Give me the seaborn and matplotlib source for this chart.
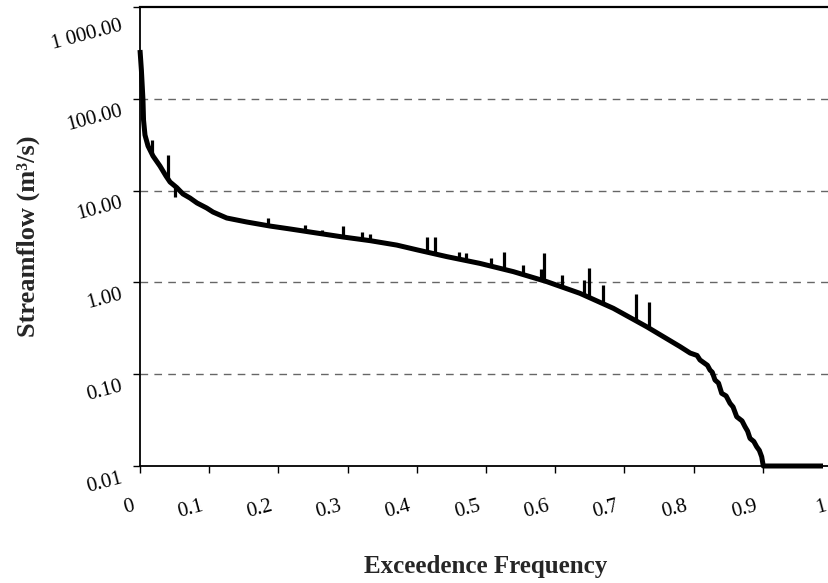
import numpy as np
import pandas as pd
import seaborn as sns
import matplotlib
matplotlib.use("Agg")
import matplotlib.pyplot as plt
from matplotlib.transforms import ScaledTranslation

# Flow duration curve: exceedence frequency vs. daily streamflow (m3/s)
exceedance = [0.0, 0.002, 0.0033, 0.0043, 0.0051, 0.0072, 0.0116, 0.0188, 0.0289,
              0.0376, 0.0434, 0.053, 0.0621, 0.0723, 0.0824, 0.0964, 0.1055, 0.1253,
              0.1542, 0.1879, 0.2168, 0.2553, 0.2938, 0.3324, 0.371, 0.4017, 0.4432,
              0.4913, 0.5395, 0.5877, 0.6358, 0.684, 0.7322, 0.7803, 0.795, 0.805,
              0.8092, 0.82, 0.8237, 0.827, 0.8309, 0.836, 0.8406, 0.847, 0.8526,
              0.857, 0.8623, 0.870, 0.8743, 0.878, 0.8815, 0.887, 0.8912, 0.895,
              0.8984, 0.9007, 0.987]
streamflow = [340, 206, 134.5, 97, 58.8, 40.3, 30.6, 23.8, 18.5,
              14.4, 12.4, 10.8, 9.19, 8.30, 7.33, 6.46, 5.84, 5.03,
              4.55, 4.11, 3.82, 3.45, 3.12, 2.85, 2.55, 2.25, 1.91,
              1.61, 1.31, 1.02, 0.760, 0.522, 0.329, 0.200, 0.170, 0.160,
              0.143, 0.125, 0.111, 0.105, 0.0865, 0.080, 0.0619, 0.058, 0.0482,
              0.044, 0.0344, 0.031, 0.0268, 0.024, 0.0200, 0.0185, 0.0162, 0.0148,
              0.0126, 0.0100, 0.0100]

# Isolated excursions away from the smooth curve
spike_x = [0.0169, 0.0409, 0.0506, 0.1854, 0.2384, 0.2626, 0.2938, 0.3204, 0.3324,
           0.371, 0.4143, 0.4263, 0.4614, 0.4711, 0.5072, 0.5264, 0.5539, 0.579,
           0.5842, 0.6094, 0.6416, 0.6488, 0.6695, 0.7168, 0.736]
spike_base = [26.0, 13.0, 11.2, 4.15, 3.61, 3.39, 3.12, 2.93, 2.85,
              2.55, 2.15, 2.05, 1.78, 1.74, 1.52, 1.40, 1.22, 1.07,
              1.04, 0.89, 0.73, 0.68, 0.58, 0.38, 0.32]
spike_top = [35.6, 24.4, 8.5, 4.99, 4.22, 3.72, 4.11, 3.57, 3.37,
             2.71, 3.15, 3.15, 2.16, 2.07, 1.83, 2.16, 1.55, 1.39,
             2.07, 1.20, 1.06, 1.45, 0.937, 0.741, 0.617]

x_ticks = [0, 0.1, 0.2, 0.3, 0.4, 0.5, 0.6, 0.7, 0.8, 0.9, 1]
x_tick_labels = ["0", "0.1", "0.2", "0.3", "0.4", "0.5", "0.6", "0.7", "0.8", "0.9", "1"]
y_ticks = [0.01, 0.1, 1, 10, 100, 1000]
y_tick_labels = ["0.01", "0.10", "1.00", "10.00", "100.00", "1 000.00"]

sns.set_theme(style="ticks")
plt.rcParams["font.family"] = ["Liberation Serif", "DejaVu Serif"]

DPI = 100
fig = plt.figure(figsize=(8.29, 5.83), dpi=DPI)
ax = fig.add_axes([140 / 829, (583 - 466) / 583, 692 / 829, 459 / 583])

df = pd.DataFrame({"exceedance": exceedance, "streamflow": streamflow})
sns.lineplot(data=df, x="exceedance", y="streamflow", ax=ax, sort=False,
             estimator=None, color="black", linewidth=3.6, clip_on=False,
             solid_joinstyle="round", solid_capstyle="butt", zorder=3)
ax.vlines(spike_x, spike_base, spike_top, colors="black", linewidth=2.3, zorder=3)

ax.set_yscale("log")
ax.set_xlim(0, 1)
ax.set_ylim(0.01, 1000)
ax.minorticks_off()

ax.set_yticks(y_ticks)
ax.set_yticklabels(y_tick_labels)
ax.set_xticks(x_ticks)
ax.set_xticklabels(x_tick_labels)

ax.tick_params(axis="both", which="major", direction="out", length=5, width=1,
               color="black", labelsize=15, labelcolor="black")
ax.tick_params(axis="x", pad=23.8)
ax.tick_params(axis="y", pad=7.9)

ax.grid(False)
for v in [0.1, 1, 10, 100]:
    ax.axhline(v, color="#666666", linewidth=1.0, linestyle=(0, (5.5, 4.5)), zorder=1)

for side in ["left", "bottom", "top"]:
    ax.spines[side].set_visible(True)
    ax.spines[side].set_color("black")
    ax.spines[side].set_linewidth(1.3)
ax.spines["top"].set_linewidth(1.6)
ax.spines["right"].set_visible(False)

ax.set_xlabel("Exceedence Frequency", fontsize=18, fontweight="bold")
ax.set_ylabel("Streamflow (m³/s)", fontsize=19, fontweight="bold")
ax.xaxis.set_label_coords(0.5, -0.22)
ax.xaxis.label.set_va("center")
ax.yaxis.set_label_coords(-0.1618, 0.5)
ax.yaxis.label.set_va("center")
ax.yaxis.label.set_ha("center")

# Slanted tick labels with small offsets
px = 1.0 / DPI
for lab in ax.get_xticklabels():
    lab.set_rotation(15)
    lab.set_rotation_mode("anchor")
    lab.set_ha("right")
    lab.set_va("center")
    lab.set_transform(lab.get_transform() + ScaledTranslation(-6 * px, 0, fig.dpi_scale_trans))
for i, lab in enumerate(ax.get_yticklabels()):
    lab.set_rotation(15)
    lab.set_rotation_mode("anchor")
    lab.set_ha("right")
    lab.set_va("center")
    dy = -12 if i < len(y_ticks) - 1 else -19
    lab.set_transform(lab.get_transform() + ScaledTranslation(0, dy * px, fig.dpi_scale_trans))

fig.savefig("out.png", dpi=DPI)
